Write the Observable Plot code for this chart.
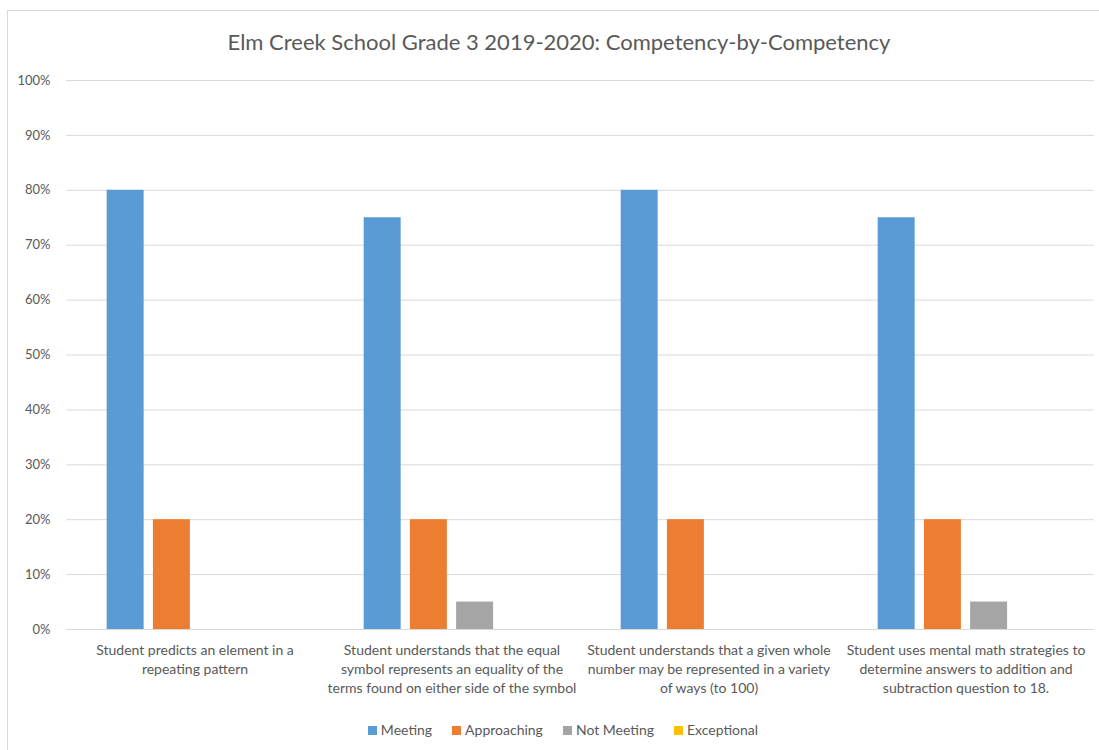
<!DOCTYPE html>
<html>
<head>
<meta charset="utf-8">
<script src="https://cdn.jsdelivr.net/npm/d3@7"></script>
<script src="https://cdn.jsdelivr.net/npm/@observablehq/plot@0.6"></script>
<style>
  html, body { margin: 0; padding: 0; background: #fff; }
  body { width: 1099px; height: 750px; position: relative; overflow: hidden; font-family: Lato, "Open Sans", sans-serif; }
  #frame { position: absolute; left: 7px; top: 10px; width: 1092px; height: 740px; border-top: 1px solid #d9d9d9; border-left: 1px solid #d9d9d9; box-sizing: border-box; }
  #title { position: absolute; left: 0; top: 28px; width: 1118px; text-align: center; font-size: 22px; line-height: 28px; color: #595959; }
  #chart { position: absolute; left: 0; top: 60px; }
  #legend { position: absolute; left: 0; top: 720px; width: 1126px; display: flex; justify-content: center; gap: 20px; font-size: 14px; color: #595959; line-height: 20px; }
  .item { display: flex; align-items: center; gap: 4px; }
  .sw { width: 9px; height: 9px; display: inline-block; }
</style>
</head>
<body>
<div id="frame"></div>
<div id="title">Elm Creek School Grade 3 2019-2020: Competency-by-Competency</div>
<div id="chart"></div>
<div id="legend"></div>
<script>
const categories = [
  "Student predicts an element in a repeating pattern",
  "Student understands that the equal symbol represents an equality of the terms found on either side of the symbol",
  "Student understands that a given whole number may be represented in a variety of ways (to 100)",
  "Student uses mental math strategies to determine answers to addition and subtraction question to 18."
];
const categoryLines = [
  ["Student predicts an element in a", "repeating pattern"],
  ["Student understands that the equal", "symbol represents an equality of the", "terms found on either side of the symbol"],
  ["Student understands that a given whole", "number may be represented in a variety", "of ways (to 100)"],
  ["Student uses mental math strategies to", "determine answers to addition and", "subtraction question to 18."]
];
const series = ["Meeting", "Approaching", "Not Meeting", "Exceptional"];
const meeting = [0.80, 0.75, 0.80, 0.75];
const approaching = [0.20, 0.20, 0.20, 0.20];
const notMeeting = [0.00, 0.05, 0.00, 0.05];
const exceptional = [0.00, 0.00, 0.00, 0.00];
const colors = ["#5b9bd5", "#ed7d31", "#a5a5a5", "#ffc000"];
const yTicks = [0, 0.1, 0.2, 0.3, 0.4, 0.5, 0.6, 0.7, 0.8, 0.9, 1.0];

const seriesValues = [meeting, approaching, notMeeting, exceptional];
const rows = [];
categories.forEach((c, i) => {
  seriesValues.forEach((arr, j) => rows.push({category: c, series: series[j], value: arr[i]}));
});
const labelOf = new Map(categories.map((c, i) => [c, categoryLines[i].join("\n")]));

const chart = Plot.plot({
  width: 1099,
  height: 640,
  marginLeft: 66,
  marginRight: 5,
  marginTop: 20,
  marginBottom: 71,
  style: { fontFamily: 'Lato, "Open Sans", sans-serif', fontSize: "13px", color: "#595959", background: "transparent", overflow: "visible" },
  fx: { domain: categories, padding: 0, round: false, label: null, axis: null },
  x: { domain: series, paddingInner: 0.2, paddingOuter: 0.88, round: false, axis: null },
  y: { domain: [0, 1], label: null, axis: null },
  color: { domain: series, range: colors },
  marks: [
    Plot.gridY(yTicks, { stroke: "#d9d9d9", strokeOpacity: 1, strokeWidth: 1 }),
    Plot.axisY(yTicks, { tickSize: 0, tickPadding: 16, tickFormat: d3.format(".0%"), fill: "#595959", fontSize: 13, label: null }),
    Plot.barY(rows, { fx: "category", x: "series", y: "value", fill: "series" }),
    Plot.axisFx({ anchor: "bottom", tickSize: 0, tickPadding: 12, lineHeight: 1.36, fill: "#595959", fontSize: 14, label: null, tickFormat: c => labelOf.get(c) })
  ]
});
document.getElementById("chart").appendChild(chart);

const legend = document.getElementById("legend");
series.forEach((s, i) => {
  const item = document.createElement("div");
  item.className = "item";
  const sw = document.createElement("span");
  sw.className = "sw";
  sw.style.background = colors[i];
  const t = document.createElement("span");
  t.textContent = s;
  item.appendChild(sw);
  item.appendChild(t);
  legend.appendChild(item);
});
</script>
</body>
</html>
